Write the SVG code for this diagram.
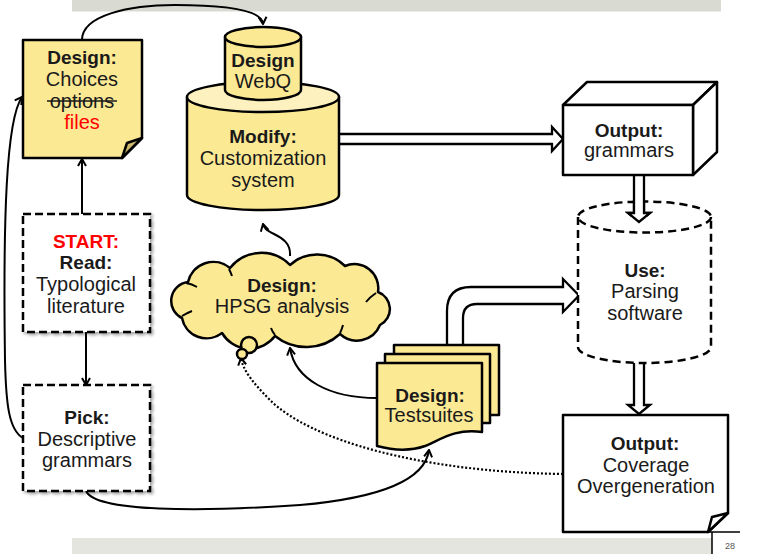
<svg xmlns="http://www.w3.org/2000/svg" width="769" height="554" viewBox="0 0 769 554">
  <style>
    text { font-family: "Liberation Sans", Arial, sans-serif; font-size: 20px; fill: #1a1a1a; text-anchor: middle; }
    .b { font-weight: bold; font-size: 19px; }
    .red { fill: #ff0000; }
    .shape { stroke: #000; stroke-width: 2.5; stroke-linejoin: round; }
    .yel { fill: #fce994; }
    .lite { fill: #fdf2bf; }
    .wht { fill: #fff; }
    .dash { fill: #fff; stroke: #000; stroke-width: 2.5; stroke-dasharray: 8 4; }
    .conn { fill: none; stroke: #000; stroke-width: 2; }
    .dot { fill: none; stroke: #000; stroke-width: 2.2; stroke-dasharray: 2 2; }
    .hollow { fill: #fff; stroke: #000; stroke-width: 2.3; stroke-linejoin: miter; }
  </style>
  <defs>
    <marker id="arr" viewBox="0 0 10 10" refX="9" refY="5" markerWidth="10" markerHeight="10" markerUnits="userSpaceOnUse" orient="auto">
      <path d="M2,1 L9,5 L2,9" fill="none" stroke="#000" stroke-width="2"/>
    </marker>
    <filter id="shadow" x="-10%" y="-10%" width="125%" height="125%">
      <feDropShadow dx="2" dy="2" stdDeviation="1.5" flood-color="#000" flood-opacity="0.35"/>
    </filter>
  </defs>

  <!-- page bars -->
  <rect x="72" y="0" width="649" height="11.5" fill="#d9dbd3"/>
  <rect x="72" y="538" width="640" height="16" fill="#e4e5df"/>
  <path d="M708,532 H740 M712,532 V554" fill="none" stroke="#000" stroke-width="1.5"/>
  <text x="730" y="549" style="font-size:9px;fill:#555">28</text>

  <!-- connectors -->
  <g id="connectors">
    <path class="conn" d="M82,40 C82,15 130,5 175,5 C225,5 262,10 263,24" marker-end="url(#arr)"/>
    <path class="conn" d="M82,214 V159" marker-end="url(#arr)"/>
    <path class="conn" d="M86,332 V385" marker-end="url(#arr)"/>
    <path class="conn" d="M23,438 C9,430 6,405 5,360 C3,220 6,120 22,97" marker-end="url(#arr)"/>
    <path class="conn" d="M86,491 C95,512 200,512 300,505 C380,498 425,480 429,450" marker-end="url(#arr)"/>
    <path class="conn" d="M290,256 C291,243 282,238 274,234 C266,230 264,228 263,224" marker-end="url(#arr)"/>
    <path class="conn" d="M377,398 C330,398 295,380 290,348" marker-end="url(#arr)"/>
    <path class="dot" d="M563,474 C420,472 310,440 270,400 C252,382 243,370 241,358" marker-end="url(#arr)"/>
    <!-- hollow block arrows -->
    <path class="hollow" d="M339,134 H552 V127 L563,139 L552,151 V144 H339"/>
    <path class="hollow" d="M634,175 V213 H628 L639,222 L650,213 H644 V175"/>
    <path class="hollow" d="M634,363 V405 H628 L639,414 L650,405 H644 V363"/>
    <path class="hollow" d="M447,346 V311 Q447,287 471,287 H563 V279 L579,295.5 L563,312 V304 H477 Q463,304 463,318 V346"/>
  </g>

  <!-- Design: Choices note -->
  <g id="choices">
    <path class="shape yel" d="M23,40 H142 V138 L122,158 H23 Z"/>
    <path class="shape" fill="#cdb96e" d="M142,138 L127,143 L122,158 Z"/>
    <text class="b" x="82" y="64">Design:</text>
    <text x="82" y="86">Choices</text>
    <text x="82" y="108">options</text>
    <line x1="47" y1="101" x2="117" y2="101" stroke="#1a1a1a" stroke-width="1.5"/>
    <text class="red" x="82" y="129">files</text>
  </g>

  <!-- Modify: Customization system cylinder -->
  <g id="customization">
    <path class="shape yel" d="M187,97 V195 A76,15 0 0 0 339,195 V97 Z"/>
    <ellipse class="shape lite" cx="263" cy="97" rx="76" ry="15"/>
    <text class="b" x="263" y="143">Modify:</text>
    <text x="263" y="165">Customization</text>
    <text x="263" y="187">system</text>
  </g>

  <!-- Design WebQ cylinder -->
  <g id="webq">
    <path class="shape yel" d="M225,37 V90 A38,10 0 0 0 301,90 V37 Z"/>
    <ellipse class="shape yel" cx="263" cy="37" rx="38" ry="10"/>
    <text class="b" x="263" y="67">Design</text>
    <text x="263" y="88">WebQ</text>
  </g>

  <!-- Output: grammars box -->
  <g id="grammars">
    <path class="shape wht" d="M563,105 L587,82 H717 L693,105 Z"/>
    <path class="shape wht" d="M693,105 L717,82 V152 L693,175 Z"/>
    <rect class="shape wht" x="563" y="105" width="130" height="70"/>
    <text class="b" x="629" y="137">Output:</text>
    <text x="629" y="157">grammars</text>
  </g>

  <!-- Use: Parsing software (dashed cylinder) -->
  <g id="parsing">
    <path d="M578,217 V347 A66.5,16 0 0 0 711,347 V217" fill="#fff" stroke="#000" stroke-width="2.5" stroke-dasharray="8 5"/>
    <ellipse cx="644.5" cy="217" rx="66.5" ry="15.5" fill="none" stroke="#000" stroke-width="2.5" stroke-dasharray="8 5"/>
    <text class="b" x="645" y="277">Use:</text>
    <text x="645" y="298">Parsing</text>
    <text x="645" y="320">software</text>
  </g>

  <!-- re-draw arrow tip over the dashed top -->
  <path class="hollow" d="M634,200 V213 H628 L639,222 L650,213 H644 V200"/>

  <!-- START: Read -->
  <g id="start">
    <rect class="dash" x="23" y="214" width="127" height="118" filter="url(#shadow)"/>
    <text class="b red" x="86" y="248">START:</text>
    <text class="b" x="86" y="269">Read:</text>
    <text x="86" y="291">Typological</text>
    <text x="86" y="313">literature</text>
  </g>

  <!-- Pick: Descriptive grammars -->
  <g id="pick">
    <rect class="dash" x="23" y="385" width="127" height="106" filter="url(#shadow)"/>
    <text class="b" x="87" y="424">Pick:</text>
    <text x="87" y="446">Descriptive</text>
    <text x="87" y="467">grammars</text>
  </g>

  <!-- Design: HPSG analysis cloud -->
  <g id="hpsg">
    <path class="shape yel" d="M182,318 A19,19 0 0 1 188,282 A26,26 0 0 1 230,268 A40,40 0 0 1 290,265 A40,40 0 0 1 345,266 A24,24 0 0 1 378,292 A18,18 0 0 1 380,325 A25,25 0 0 1 340,334 A50,50 0 0 1 275,336 A32,32 0 0 1 222,333 A25,25 0 0 1 182,318 Z"/>
    <path class="conn" d="M186,283 Q192,284 197,287 M182,316 Q187,313 192,311 M229,269 Q231,273 232,276 M376,293 Q370,297 366,302 M340,333 Q342,329 343,325 M275,335 Q272,331 271,328"/>
    <circle class="shape yel" cx="249" cy="345" r="8"/>
    <circle class="shape yel" cx="242" cy="354" r="5"/>
    <text class="b" x="282" y="292">Design:</text>
    <text x="282" y="313">HPSG analysis</text>
  </g>

  <!-- Design: Testsuites (stacked documents) -->
  <g id="testsuites">
    <rect class="shape yel" x="394" y="345" width="105" height="70"/>
    <rect class="shape yel" x="385" y="354" width="105" height="69"/>
    <path class="shape yel" d="M377,363 H482 V432 C455,428 440,440 425,446 C408,452 392,450 377,446 Z"/>
    <text class="b" x="430" y="402">Design:</text>
    <text x="429" y="422">Testsuites</text>
  </g>

  <!-- Output: Coverage Overgeneration -->
  <g id="coverage">
    <path class="shape wht" d="M563,415 H728 V513 L708,532 H563 Z"/>
    <path class="shape wht" d="M728,513 L712,517 L708,532 Z"/>
    <text class="b" x="645" y="450">Output:</text>
    <text x="646" y="472">Coverage</text>
    <text x="646" y="493">Overgeneration</text>
  </g>
</svg>
